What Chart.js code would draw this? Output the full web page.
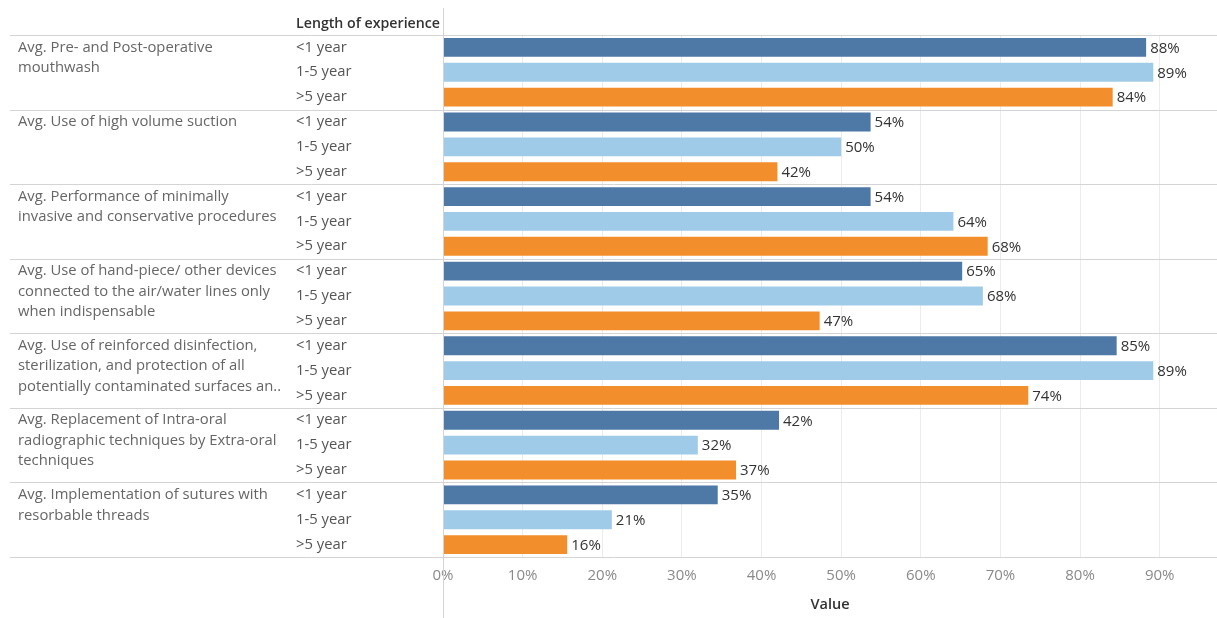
<!DOCTYPE html>
<html>
<head>
<meta charset="utf-8">
<script src="https://cdn.jsdelivr.net/npm/chart.js@4/dist/chart.umd.min.js"></script>
<style>
  html, body { margin: 0; padding: 0; background: #fff; }
</style>
</head>
<body>
<canvas id="chart" width="1217" height="618"></canvas>
<script>
// measures (row groups), already wrapped as in the source
const measures = [
  ["Avg. Pre- and Post-operative", "mouthwash"],
  ["Avg. Use of high volume suction"],
  ["Avg. Performance of minimally", "invasive and conservative procedures"],
  ["Avg. Use of hand-piece/ other devices", "connected to the air/water lines only", "when indispensable"],
  ["Avg. Use of reinforced disinfection,", "sterilization, and protection of all", "potentially contaminated surfaces an.."],
  ["Avg. Replacement of Intra-oral", "radiographic techniques by Extra-oral", "techniques"],
  ["Avg. Implementation of sutures with", "resorbable threads"]
];
const experience = ["<1 year", "1-5 year", ">5 year"];

// values in %, one per measure
const lessThan1 = [88.3, 53.7, 53.7, 65.2, 84.6, 42.2, 34.5];
const oneToFive = [89.2, 50.0, 64.1, 67.8, 89.2, 32.0, 21.2];
const moreThan5 = [84.1, 42.0, 68.4, 47.3, 73.5, 36.8, 15.6];

const xMax = 97.2;
const colors = ["#4e79a7", "#a0cbe8", "#f28e2b"];

const FONT = "'Open Sans', sans-serif";

// flatten into one row per (measure, experience)
const series = [lessThan1, oneToFive, moreThan5];
const rowLabels = [];
const rowValues = [];
const rowColors = [];
measures.forEach((m, i) => {
  experience.forEach((e, j) => {
    rowLabels.push(i + "|" + e);
    rowValues.push(series[j][i]);
    rowColors.push(colors[j]);
  });
});

const tablePlugin = {
  id: "table",
  afterDraw(chart) {
    const ctx = chart.ctx;
    const area = chart.chartArea;
    const y = chart.scales.y;
    const x = chart.scales.x;
    const rowH = y.getPixelForValue(1) - y.getPixelForValue(0);
    ctx.save();

    // header
    ctx.fillStyle = "#333";
    ctx.font = "600 14.2px " + FONT;
    ctx.textBaseline = "middle";
    ctx.textAlign = "left";
    ctx.fillText("Length of experience", 296, 24);

    // separators
    ctx.strokeStyle = "#d4d4d4";
    ctx.lineWidth = 1;
    for (let i = 0; i <= measures.length; i++) {
      const yy = Math.round(y.getPixelForValue(i * 3) - rowH / 2) + 0.5;
      ctx.beginPath();
      ctx.moveTo(10, yy);
      ctx.lineTo(chart.width, yy);
      ctx.stroke();
    }
    ctx.beginPath();
    ctx.moveTo(Math.round(area.left) + 0.5, 8);
    ctx.lineTo(Math.round(area.left) + 0.5, chart.height);
    ctx.stroke();

    // row labels
    ctx.font = "14.8px " + FONT;
    measures.forEach((lines, i) => {
      const y0 = y.getPixelForValue(i * 3);
      ctx.fillStyle = "#666";
      lines.forEach((t, k) => ctx.fillText(t, 18, y0 + k * 20.5));
      experience.forEach((e, j) => {
        ctx.fillStyle = "#555";
        ctx.fillText(e, 296, y.getPixelForValue(i * 3 + j));
      });
    });

    // value labels
    ctx.fillStyle = "#333";
    ctx.font = "15px " + FONT;
    rowValues.forEach((v, k) => {
      ctx.fillText(Math.round(v) + "%", x.getPixelForValue(v) + 4, y.getPixelForValue(k) + 1);
    });
    ctx.restore();
  }
};

new Chart(document.getElementById("chart"), {
  type: "bar",
  data: {
    labels: rowLabels,
    datasets: [{
      data: rowValues,
      backgroundColor: rowColors,
      categoryPercentage: 1,
      barPercentage: 0.76
    }]
  },
  options: {
    indexAxis: "y",
    responsive: false,
    animation: false,
    layout: { padding: { top: 35, right: 0, bottom: 0, left: 0 } },
    plugins: { legend: { display: false }, tooltip: { enabled: false } },
    scales: {
      y: {
        ticks: { display: false },
        grid: { display: false },
        border: { display: false },
        afterFit: s => { s.width = 443; }
      },
      x: {
        min: 0,
        max: xMax,
        ticks: {
          stepSize: 10,
          includeBounds: false,
          color: "#8a8a8a",
          font: { family: FONT, size: 15 },
          padding: 10,
          callback: v => v + "%"
        },
        grid: { color: "#ececec", drawTicks: false },
        border: { display: false },
        title: {
          display: true,
          text: "Value",
          color: "#333",
          font: { family: FONT, size: 14.5, weight: "600" },
          padding: { top: 4, bottom: 4 }
        },
        afterFit: s => { s.height = 61; }
      }
    }
  },
  plugins: [tablePlugin]
});
</script>
</body>
</html>
